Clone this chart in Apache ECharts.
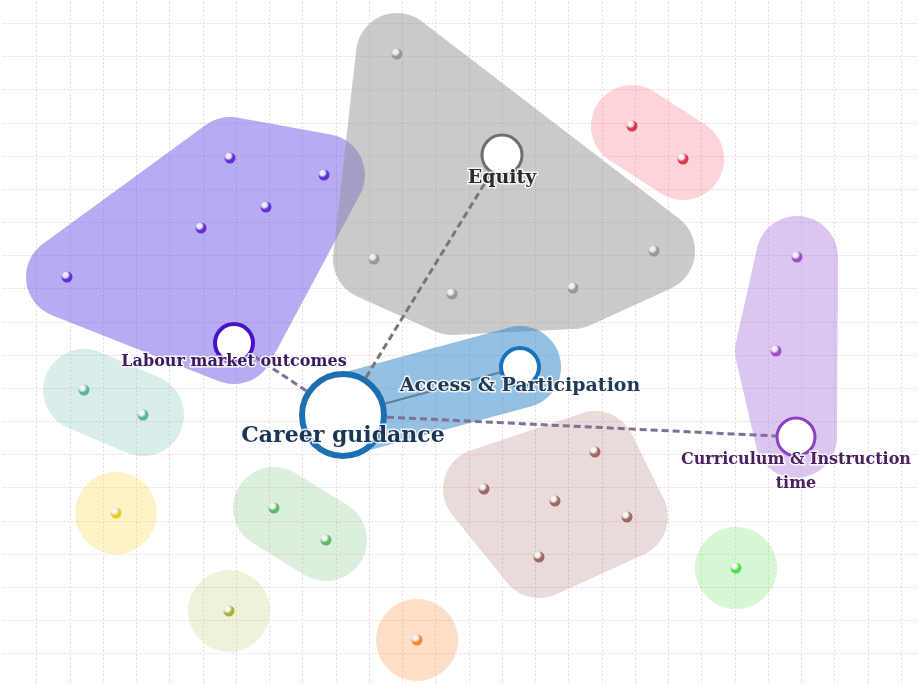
<!DOCTYPE html>
<html>
<head>
<meta charset="utf-8">
<title>Career guidance network</title>
<script src="https://cdn.jsdelivr.net/npm/echarts@6/dist/echarts.min.js"></script>
<style>
html, body { margin: 0; padding: 0; background: #fff; }
#map { width: 917px; height: 684px; }
</style>
</head>
<body>
<div id="map"></div>
<script>
// topic hubs
var hubNames = ['Career guidance', 'Access & Participation', 'Equity', 'Labour market outcomes', 'Curriculum & Instruction time'];
var hubX = [343, 520, 502, 234, 796];
var hubY = [415, 367, 155, 343, 437];

// links from the main hub
var linkSource = ['Career guidance', 'Career guidance', 'Career guidance', 'Career guidance'];
var linkTarget = ['Access & Participation', 'Equity', 'Labour market outcomes', 'Curriculum & Instruction time'];

// clusters: small member dots + hubs that sit inside the cluster
var clusterNames = ['labour', 'equity', 'red', 'curriculum', 'teal', 'access', 'brown', 'yellow', 'green', 'olive', 'orange', 'lime'];
var clusterX = [
    [230, 324, 266, 201, 67],
    [397, 374, 452, 573, 654],
    [632, 683],
    [797, 776],
    [84, 143],
    [],
    [595, 484, 555, 627, 539],
    [116],
    [274, 326],
    [229],
    [417],
    [736]
];
var clusterY = [
    [158, 175, 207, 228, 277],
    [54, 259, 294, 288, 251],
    [126, 159],
    [257, 351],
    [390, 415],
    [],
    [452, 489, 501, 517, 557],
    [513],
    [508, 540],
    [611],
    [640],
    [568]
];
var clusterHubs = [
    ['Labour market outcomes'],
    ['Equity'],
    [],
    ['Curriculum & Instruction time'],
    [],
    ['Career guidance', 'Access & Participation'],
    [], [], [], [], [], []
];

// look
var blobColors = [
    'rgba(100,78,225,0.47)', 'rgba(150,150,150,0.5)', 'rgba(245,120,138,0.32)', 'rgba(168,118,220,0.42)',
    'rgba(110,190,172,0.26)', 'rgba(40,130,200,0.5)', 'rgba(165,105,95,0.24)', 'rgba(250,215,70,0.3)',
    'rgba(120,190,120,0.26)', 'rgba(190,200,100,0.24)', 'rgba(250,150,70,0.3)', 'rgba(120,230,110,0.3)'
];
var dotColors = ['#4d12cc', '#8c8c8c', '#d0142c', '#8a32c2', '#3aa68e', '#1a72b8', '#8a4c44', '#e8bf00', '#3cae50', '#9c9e12', '#f07010', '#28dc28'];
var hubStyle = {
    'Career guidance': { size: 82, border: '#1b6fb2', bw: 6, text: '#1b3553', font: 22, dy: 21 },
    'Access & Participation': { size: 38, border: '#1a72b8', bw: 4, text: '#1e3a55', font: 19, dy: 19 },
    'Equity': { size: 40, border: '#6e6e6e', bw: 3, text: '#2b2b2b', font: 19, dy: 23 },
    'Labour market outcomes': { size: 38, border: '#4a12c6', bw: 4, text: '#3a1a5e', font: 16, dy: 19 },
    'Curriculum & Instruction time': { size: 38, border: '#8a42c2', bw: 3, text: '#4a2060', font: 16, dy: 35 }
};
var PAD = 41;

function hull(points) {
    points.sort(function (a, b) { return a[0] - b[0] || a[1] - b[1]; });
    function cross(o, a, b) { return (a[0] - o[0]) * (b[1] - o[1]) - (a[1] - o[1]) * (b[0] - o[0]); }
    var lower = [], upper = [];
    for (var i = 0; i < points.length; i++) {
        while (lower.length >= 2 && cross(lower[lower.length - 2], lower[lower.length - 1], points[i]) <= 0) lower.pop();
        lower.push(points[i]);
    }
    for (var j = points.length - 1; j >= 0; j--) {
        while (upper.length >= 2 && cross(upper[upper.length - 2], upper[upper.length - 1], points[j]) <= 0) upper.pop();
        upper.push(points[j]);
    }
    upper.pop();
    lower.pop();
    return lower.concat(upper);
}

function members(i) {
    var out = [];
    for (var k = 0; k < clusterX[i].length; k++) out.push([clusterX[i][k], clusterY[i][k]]);
    clusterHubs[i].forEach(function (n) {
        var h = hubNames.indexOf(n);
        out.push([hubX[h], hubY[h]]);
    });
    return out;
}

function renderBlob(params, api) {
    var i = api.value(0);
    var pts = [];
    members(i).forEach(function (p) {
        var c = api.coord(p);
        for (var k = 0; k < 48; k++) {
            var a = k / 48 * Math.PI * 2;
            pts.push([c[0] + PAD * Math.cos(a), c[1] + PAD * Math.sin(a)]);
        }
    });
    return {
        type: 'polygon',
        shape: { points: hull(pts) },
        style: { fill: blobColors[i] }
    };
}

function ball(c) {
    return {
        type: 'radial', x: 0.35, y: 0.3, r: 0.8,
        colorStops: [
            { offset: 0, color: '#ffffff' },
            { offset: 0.3, color: '#f2f2f2' },
            { offset: 0.55, color: c },
            { offset: 1, color: c }
        ]
    };
}

var dots = [];
clusterNames.forEach(function (n, i) {
    for (var k = 0; k < clusterX[i].length; k++) {
        dots.push({ value: [clusterX[i][k], clusterY[i][k]], itemStyle: { color: ball(dotColors[i]) } });
    }
});

var nodes = hubNames.map(function (n, i) {
    var s = hubStyle[n];
    return {
        name: n,
        value: [hubX[i], hubY[i]],
        symbolSize: s.size,
        itemStyle: { color: '#fff', borderColor: s.border, borderWidth: s.bw },
        label: {
            show: true,
            position: 'inside',
            offset: [0, s.dy],
            formatter: n === 'Curriculum & Instruction time' ? 'Curriculum & Instruction\ntime' : n,
            color: s.text,
            fontSize: s.font,
            lineHeight: s.font + 8,
            fontFamily: 'DejaVu Serif',
            fontWeight: 'bold',
            textBorderColor: 'rgba(255,255,255,0.85)',
            textBorderWidth: 3
        }
    };
});

var linkStyles = {
    'Access & Participation': { color: '#5f7f9a', width: 2, type: 'solid', opacity: 1 },
    'Equity': { color: '#777777', width: 3, type: [7, 4], opacity: 1 },
    'Labour market outcomes': { color: '#7e7096', width: 3, type: [7, 4], opacity: 1 },
    'Curriculum & Instruction time': { color: '#7e7096', width: 3, type: [7, 4], opacity: 1 }
};
var edges = linkSource.map(function (s, i) {
    return { source: s, target: linkTarget[i], lineStyle: linkStyles[linkTarget[i]] };
});

var gridLine = { show: true, showMinLine: false, showMaxLine: false, lineStyle: { color: '#f6d2de', type: [2, 2], width: 1 } };

var chart = echarts.init(document.getElementById('map'));
chart.setOption({
    animation: false,
    grid: [
        { left: 3.45, top: -9.86, width: 913.55, height: 693.86, outerBoundsMode: 'none', containLabel: false },
        { left: 0, top: 0, width: 917, height: 684, outerBoundsMode: 'none', containLabel: false }
    ],
    xAxis: [
        {
            type: 'value', gridIndex: 0, min: 0, max: 27.475, interval: 1,
            axisLine: { show: false }, axisTick: { show: false }, axisLabel: { show: false },
            splitLine: gridLine
        },
        { type: 'value', gridIndex: 1, min: 0, max: 917, show: false, splitLine: { show: false } }
    ],
    yAxis: [
        {
            type: 'value', gridIndex: 0, min: 0, max: 20.92, interval: 1, inverse: true,
            axisLine: { show: false }, axisTick: { show: false }, axisLabel: { show: false },
            splitLine: gridLine
        },
        { type: 'value', gridIndex: 1, min: 0, max: 684, inverse: true, show: false, splitLine: { show: false } }
    ],
    series: [
        {
            type: 'custom',
            xAxisIndex: 1, yAxisIndex: 1,
            clip: false,
            z: 1,
            renderItem: renderBlob,
            data: clusterNames.map(function (n, i) { return [i, 0]; })
        },
        {
            type: 'scatter',
            xAxisIndex: 1, yAxisIndex: 1,
            z: 3,
            symbolSize: 11,
            data: dots
        },
        {
            type: 'graph',
            coordinateSystem: 'cartesian2d',
            xAxisIndex: 1, yAxisIndex: 1,
            layout: 'none',
            z: 4,
            data: nodes,
            links: edges,
            emphasis: { disabled: true }
        }
    ]
});
</script>
</body>
</html>
